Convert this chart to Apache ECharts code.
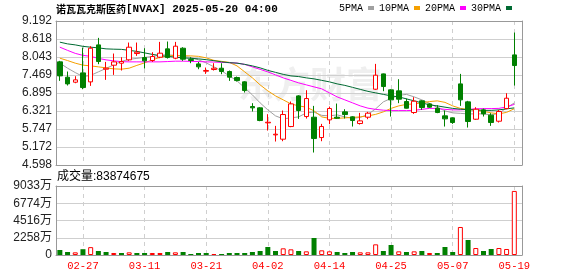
<!DOCTYPE html>
<html><head><meta charset="utf-8">
<script src="https://cdn.jsdelivr.net/npm/echarts@6/dist/echarts.min.js"></script>
<style>html,body{margin:0;padding:0;background:#fff}#c{width:578px;height:276px}</style>
</head><body><div id="c"></div>
<script>
const stockName = '诺瓦瓦克斯医药';
const stockInfo = '[NVAX] 2025-05-20 04:00';
const dates = ['02-24','02-25','02-26','02-27','02-28','03-03','03-04','03-05','03-06','03-07',
'03-10','03-11','03-12','03-13','03-14','03-17','03-18','03-19','03-20','03-21',
'03-24','03-25','03-26','03-27','03-28','03-31','04-01','04-02','04-03','04-04',
'04-07','04-08','04-09','04-10','04-11','04-14','04-15','04-16','04-17','04-21',
'04-22','04-23','04-24','04-25','04-28','04-29','04-30','05-01','05-02','05-05',
'05-06','05-07','05-08','05-09','05-12','05-13','05-14','05-15','05-16','05-19'];
const labelDates = ['02-27','03-11','03-21','04-02','04-14','04-25','05-07','05-19'];
const opens = [7.884,7.395,7.235,7.533,7.246,8.426,7.650,7.778,7.842,7.948,
8.150,8.022,7.927,8.033,8.299,8.001,8.320,7.958,7.820,7.586,
7.640,7.682,7.576,7.384,7.246,6.459,6.417,5.938,5.555,5.417,
5.821,6.799,6.140,6.119,5.470,6.034,6.119,6.289,6.130,5.917,
6.119,7.012,7.501,6.991,6.959,6.619,6.268,6.640,6.544,6.406,
6.162,6.098,7.182,6.608,6.055,6.353,6.183,5.991,6.395,8.107];
const closes = [7.437,7.182,7.310,7.065,8.320,7.895,7.682,7.884,7.895,8.352,
8.193,7.916,8.054,8.161,8.022,8.384,7.969,7.927,7.725,7.608,
7.682,7.576,7.395,7.288,6.970,6.417,6.013,5.959,5.577,6.204,
6.544,6.332,6.714,5.438,5.821,6.396,6.087,6.204,6.013,6.002,
6.247,7.459,7.097,6.672,6.693,6.406,6.629,6.427,6.438,6.268,
6.066,5.949,6.672,5.981,6.374,6.225,5.949,6.300,6.725,7.767];
const lows = [7.278,7.129,7.203,7.012,7.118,7.810,7.310,7.469,7.608,7.916,
8.075,7.671,7.884,8.001,7.990,7.969,7.916,7.842,7.650,7.501,
7.608,7.491,7.278,7.257,6.906,6.300,5.991,5.693,5.343,5.353,
5.800,6.066,6.076,4.992,5.353,5.896,6.066,6.076,5.821,5.885,
6.055,6.991,6.948,6.140,6.566,6.395,6.225,6.353,6.417,6.247,
5.821,5.906,6.480,5.789,6.034,6.140,5.842,5.949,6.374,7.129];
const highs = [7.916,7.576,7.427,8.341,8.384,8.650,7.884,8.150,8.033,8.501,
8.501,8.320,8.192,8.522,8.533,8.522,8.352,8.033,7.884,7.703,
7.842,7.842,7.608,7.416,7.267,6.566,6.438,6.215,5.842,6.332,
6.619,6.821,6.980,6.480,5.906,6.459,6.555,6.374,6.151,6.257,
6.289,7.820,7.512,7.012,7.331,6.714,6.757,6.661,6.566,6.502,
6.332,6.108,7.501,6.640,6.438,6.395,6.247,6.353,6.884,8.820];
const ma5 = [7.843,7.683,7.543,7.415,7.453,7.565,7.677,7.788,7.900,7.964,
7.996,8.028,8.053,8.107,8.107,8.091,8.060,8.028,7.948,7.852,
7.725,7.597,7.437,7.278,7.055,6.831,6.576,6.353,6.161,6.066,
6.097,6.129,6.257,6.280,6.177,6.161,6.193,6.129,6.082,6.113,
6.209,6.385,6.608,6.720,6.815,6.847,6.767,6.672,6.560,6.432,
6.321,6.257,6.241,6.225,6.225,6.225,6.193,6.241,6.416,6.575];
const ma10 = [8.002,7.926,7.843,7.779,7.756,7.725,7.693,7.661,7.651,7.683,
7.772,7.852,7.948,8.028,8.069,8.091,8.082,8.075,8.060,8.012,
7.932,7.900,7.868,7.756,7.565,7.374,7.150,6.959,6.799,6.672,
6.544,6.480,6.439,6.321,6.129,6.082,6.082,6.097,6.113,6.129,
6.161,6.209,6.289,6.400,6.480,6.528,6.544,6.576,6.618,6.640,
6.592,6.480,6.400,6.369,6.337,6.305,6.257,6.225,6.273,6.390];
const ma20 = [8.353,8.251,8.155,8.091,8.060,7.996,7.948,7.916,7.890,7.884,
7.884,7.884,7.884,7.884,7.894,7.906,7.906,7.900,7.894,7.884,
7.878,7.868,7.859,7.846,7.804,7.724,7.645,7.565,7.469,7.374,
7.294,7.214,7.150,7.086,7.023,6.895,6.767,6.672,6.576,6.480,
6.407,6.369,6.343,6.330,6.330,6.330,6.337,6.369,6.400,6.400,
6.369,6.353,6.353,6.369,6.385,6.394,6.394,6.400,6.448,6.528];
const ma30 = [8.513,8.458,8.426,8.379,8.353,8.331,8.299,8.289,8.283,8.251,
8.219,8.171,8.123,8.085,8.060,8.034,8.012,7.996,7.980,7.954,
7.922,7.884,7.859,7.843,7.804,7.756,7.693,7.613,7.549,7.485,
7.437,7.415,7.374,7.342,7.294,7.246,7.182,7.134,7.071,7.007,
6.943,6.895,6.847,6.799,6.767,6.704,6.640,6.576,6.512,6.480,
6.439,6.400,6.375,6.359,6.353,6.337,6.337,6.353,6.385,6.416];
// volume in 万股
const volumes = [655,393,349,760,1030,524,393,262,262,349,
262,262,262,262,393,349,393,131,262,262,
131,131,262,262,262,393,524,1047,524,873,
742,524,480,2226,611,480,393,262,393,349,
349,1396,524,1309,480,393,480,524,262,262,
1047,393,3666,1964,916,524,786,916,786,8387.4675];
// 1 = up day (red), -1 = down day (green)
const volDir = [-1,-1,1,-1,1,-1,-1,1,-1,1,
-1,-1,1,1,-1,1,-1,-1,-1,-1,
1,-1,-1,-1,-1,-1,-1,-1,-1,1,
1,-1,1,-1,1,1,-1,-1,-1,1,
1,1,-1,-1,1,-1,1,-1,1,-1,
-1,-1,1,-1,1,-1,-1,1,1,1];
const priceTickLabels = ['4.598','5.172','5.747','6.321','6.895','7.469','8.043','8.618','9.192'];
const volTickLabels = ['0','2258万','4516万','6774万','9033万'];
const maNames = ['5PMA','10PMA','20PMA','30PMA'];
const maColors = ['#a0a0a0','#f5a000','#ff00ff','#006a32'];

const UP = '#ff0000', DOWN = '#008000';
const MONO = "'Liberation Mono','Noto Sans CJK SC'";
const SANS = "'Liberation Sans','Noto Sans CJK SC'";

// category slots: each trading day sits on an odd slot, half-slot spacing
const cats = ['_0'];
dates.forEach((d, j) => { cats.push(d); cats.push('_' + (2 * j + 2)); });
cats.push('_end');
const slot = j => 2 * j + 1;
const showLbl = (idx, val) => labelDates.indexOf(val) >= 0;

const candleData = dates.map((d, j) => [slot(j), opens[j], closes[j], lows[j], highs[j]]);
const maSeries = [ma5, ma10, ma20, ma30].map((arr, m) => ({
  name: maNames[m], type: 'line', xAxisIndex: 0, yAxisIndex: 0,
  data: arr.map((v, j) => [slot(j), v]), showSymbol: false, symbol: 'none',
  lineStyle: { width: 1, color: maColors[m] }, itemStyle: { color: maColors[m] },
  z: 3, silent: true, animation: false
}));
const volData = volumes.map((v, j) => ({
  value: [slot(j), v],
  itemStyle: volDir[j] > 0 ? { color: '#ffffff', borderColor: UP, borderWidth: 1 } : { color: DOWN }
}));

const frameLine = { show: true, lineStyle: { color: '#999', width: 1 } };
const hidden = { show: false };
const catAxis = (grid, labels) => ({
  type: 'category', gridIndex: grid, data: cats, boundaryGap: false,
  axisLine: frameLine, axisTick: hidden,
  axisLabel: labels ? { show: true, interval: showLbl, color: UP, fontSize: 10.5, fontFamily: MONO, margin: 6 } : hidden,
  splitLine: { show: true, interval: showLbl, lineStyle: { color: '#cfcfcf', type: [4, 4], width: 1 } }
});
const edgeAxis = (grid, pos) => ({
  type: 'value', gridIndex: grid, position: pos, axisLine: Object.assign({ onZero: false }, frameLine),
  axisTick: hidden, axisLabel: hidden, splitLine: hidden
});

const chart = echarts.init(document.getElementById('c'), null, { renderer: 'canvas' });
chart.setOption({
  animation: false,
  backgroundColor: '#fff',
  title: [
    { text: '{a|' + stockName + '}{b|' + stockInfo + '}', left: 56, top: 2, padding: 0,
      textStyle: { rich: {
        a: { fontSize: 10, color: '#000', fontFamily: "'Noto Sans CJK SC'", lineHeight: 14 },
        b: { fontSize: 11, color: '#000', fontFamily: MONO, lineHeight: 14 } } } },
    { text: '成交量:' + Math.round(volumes[volumes.length - 1] * 10000), left: 57, top: 170, padding: 0,
      textStyle: { fontSize: 12, fontWeight: 'normal', color: '#000', fontFamily: SANS, lineHeight: 14 } }
  ],
  legend: {
    data: maNames, left: 339, top: 3, padding: 0, align: 'right', icon: 'rect', itemWidth: 6, itemHeight: 4, itemGap: 5,
    selectedMode: false, textStyle: { fontSize: 10, fontFamily: MONO, color: '#000' }
  },
  graphic: [{
    type: 'text', left: 238, top: 66, z: -1, silent: true,
    style: { text: '东方财富', fill: '#efefef', font: "bold 36px 'Noto Sans CJK SC'" }
  }],
  grid: [
    { left: 56, top: 21, width: 466, height: 144 },
    { left: 56, top: 186, width: 466, height: 69 }
  ],
  xAxis: [catAxis(0, false), catAxis(1, true), edgeAxis(0, 'top'), edgeAxis(1, 'top')],
  yAxis: [
    { type: 'value', gridIndex: 0, min: 8 * 0.57425, max: 16 * 0.57425, interval: 0.57425,
      axisLine: frameLine, axisTick: hidden,
      axisLabel: { formatter: (v, i) => priceTickLabels[i], color: '#222', fontSize: 12, fontFamily: SANS, margin: 4 },
      splitLine: { show: true, lineStyle: { color: '#cfcfcf', width: 1 } } },
    { type: 'value', gridIndex: 1, min: 0, max: 9033, interval: 2258.25,
      axisLine: frameLine, axisTick: hidden,
      axisLabel: { formatter: (v, i) => volTickLabels[i], color: '#222', fontSize: 12, fontFamily: SANS, margin: 4 },
      splitLine: { show: true, lineStyle: { color: '#cfcfcf', width: 1 } } },
    edgeAxis(0, 'right'), edgeAxis(1, 'right')
  ],
  series: maSeries.concat([
    { name: 'K', type: 'candlestick', xAxisIndex: 0, yAxisIndex: 0, barWidth: 5,
      data: candleData, encode: { x: 0, y: [1, 2, 3, 4] }, z: 5, silent: true,
      itemStyle: { color: '#ffffff', color0: DOWN, borderColor: UP, borderColor0: DOWN, borderWidth: 1 } },
    { name: 'VOL', type: 'bar', xAxisIndex: 1, yAxisIndex: 1, barWidth: 5, data: volData, silent: true }
  ])
});
</script></body></html>
